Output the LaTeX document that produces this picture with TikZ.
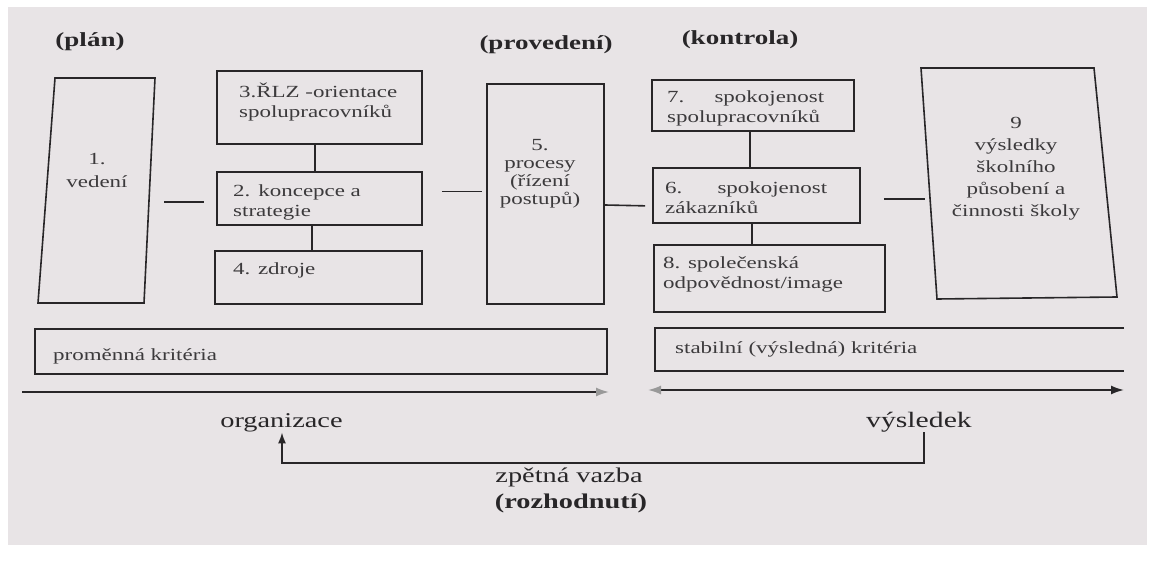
\documentclass[tikz,border=0pt]{standalone}
\usepackage{fontspec}
\setmainfont{Liberation Serif}[FakeStretch=1.35]
\usetikzlibrary{arrows.meta}
\definecolor{bgc}{RGB}{232,228,230}
\definecolor{ink}{RGB}{40,38,40}
\definecolor{txtc}{RGB}{60,58,60}
\tikzset{
  box/.style={draw=ink, line width=1.6pt, rectangle, inner sep=0pt},
  conn/.style={draw=ink, line width=1.6pt},
  txt/.style={font=\fontsize{17}{20}\selectfont, text=txtc, inner sep=0pt},
  hdr/.style={font=\bfseries\fontsize{20}{24}\selectfont, text=ink, inner sep=0pt},
  big/.style={font=\fontsize{21}{26}\selectfont, text=ink, inner sep=0pt},
  tip/.style={Latex[length=12pt,width=8pt]},
}
\begin{document}
\begin{tikzpicture}[x=1pt,y=-1pt]
\useasboundingbox (0,0) rectangle (1159,561);
\fill[white] (0,0) rectangle (1159,561);
\fill[bgc] (8,7) rectangle (1147,545);

% headers
\node[hdr] (hplan) at (90,42) {(plán)};
\node[hdr] (hprov) at (546,45) {(provedení)};
\node[hdr] (hkontr) at (740,40) {(kontrola)};

% box 1 (skewed)
\coordinate (b1a) at (55,78);
\coordinate (b1b) at (155,78);
\coordinate (b1c) at (144,303);
\coordinate (b1d) at (38,303);
\coordinate (b1r) at (149,202);
\draw[conn, line join=miter] (b1a) -- (b1b) -- (b1c) -- (b1d) -- cycle;
\node[txt, align=center, font=\fontsize{17}{23}\selectfont] (t1) at (97,170.5) {1.\\vedení};

% left column boxes
\node[box, minimum width=205pt, minimum height=73pt] (b3) at (319.5,107.5) {};
\node[txt, anchor=west, align=left] (t3) at (239,102) {3.ŘLZ -orientace\\spolupracovníků};
\node[box, minimum width=205pt, minimum height=53pt] (b2) at (319.5,198.5) {};
\node[txt, anchor=west, align=left, text width=145pt] (t2) at (233,202) {2.\hspace{8pt}koncepce a\\strategie};
\node[box, minimum width=207pt, minimum height=53pt] (b4) at (318.5,277.5) {};
\node[txt, anchor=west] (t4) at (233,270) {4. zdroje};

% box 5
\node[box, minimum width=117pt, minimum height=220pt] (b5) at (545.5,194) {};
\node[txt, align=center, font=\fontsize{17}{18}\selectfont] (t5) at (540,173.5) {5.\\procesy\\(řízení\\postupů)};

% right column boxes
\node[box, minimum width=202pt, minimum height=51pt] (b7) at (753,105.5) {};
\node[txt, anchor=west, align=left, text width=157pt] (t7) at (667,108.5) {7.\hfill spokojenost\\spolupracovníků};
\node[box, minimum width=207pt, minimum height=55pt] (b6) at (756.5,195.5) {};
\node[txt, anchor=west, align=left, text width=162pt] (t6) at (665,197.5) {6.\hfill spokojenost\\zákazníků};
\node[box, minimum width=231pt, minimum height=67pt] (b8) at (769.5,278.5) {};
\node[txt, anchor=west, align=left] (t8) at (663,274) {8. společenská\\odpovědnost/image};

% box 9 (skewed)
\coordinate (b9a) at (921,68);
\coordinate (b9b) at (1094,68);
\coordinate (b9c) at (1117,297);
\coordinate (b9d) at (937,299);
\coordinate (b9l) at (930,199);
\draw[conn, line join=miter] (b9a) -- (b9b) -- (b9c) -- (b9d) -- cycle;
\node[txt, align=center, font=\fontsize{17}{22}\selectfont] (t9) at (1016,169) {9\\výsledky\\školního\\působení a\\činnosti školy};

% connectors
\draw[conn, shorten <=15pt, shorten >=12pt] (b1r) -- (b1r -| b2.west);
\draw[conn] ([xshift=-4.5pt]b3.south) -- ([xshift=-4.5pt]b2.north);
\draw[conn] ([xshift=-7.5pt]b2.south) -- ([xshift=-6.5pt]b4.north);
\draw[conn, shorten <=19pt, shorten >=4pt] ([yshift=7pt]b2.east) -- ([yshift=2.5pt]b5.west);
\draw[conn, shorten >=7pt] ([yshift=-11pt]b5.east) -- ([yshift=-10.5pt]b6.west);
\draw[conn] ([xshift=-3pt]b7.south) -- ([xshift=-6.5pt]b6.north);
\draw[conn] ([xshift=-4.5pt]b6.south) -- ([xshift=-17.5pt]b8.north);
\draw[conn, shorten <=23pt, shorten >=5pt] ([yshift=-3.5pt]b6.east) -- (b9l);

% criteria bands
\node[box, line width=1.3pt, minimum width=572pt, minimum height=45pt] (bl) at (321,351.5) {};
\node[txt, anchor=west] (tl) at (53,356) {proměnná kritéria};
\coordinate (br1) at (1124,328);
\coordinate (br2) at (655,328);
\coordinate (br3) at (655,371);
\coordinate (br4) at (1124,371);
\draw[conn, line width=1.3pt] (br1) -- (br2) -- (br3) -- (br4);
\node[txt, anchor=west] (tr) at (675,349) {stabilní (výsledná) kritéria};

% time arrows
\coordinate (a1s) at (22,392);
\coordinate (a1e) at (609,392);
\coordinate (a2s) at (648,390);
\coordinate (a2e) at (1124,390);
\draw[conn, line width=1.8pt, -{Latex[length=13pt,width=9pt,color=gray!80]}] (a1s) -- (a1e);
\draw[conn, line width=1.8pt, {Latex[length=13pt,width=9pt,color=gray!80]}-{Latex[length=13pt,width=9pt]}] (a2s) -- (a2e);

% bottom labels and feedback
\node[big, font=\fontsize{21}{26}\selectfont] (org) at (281.5,423) {organizace};
\node[big, font=\fontsize{22}{26}\selectfont] (vys) at (919,422) {výsledek};
\coordinate (fb1) at (924,463);
\coordinate (fb2) at (282,463);
\draw[conn, -{Latex[length=11pt,width=8pt]}] (vys.south -| fb1) -- (fb1) -- (fb2) -- (org.south -| fb2);
\node[big] (zv) at (569,477) {zpětná vazba};
\node[big, font=\bfseries\fontsize{21}{26}\selectfont] (roz) at (571,503) {(rozhodnutí)};
\end{tikzpicture}
\end{document}
